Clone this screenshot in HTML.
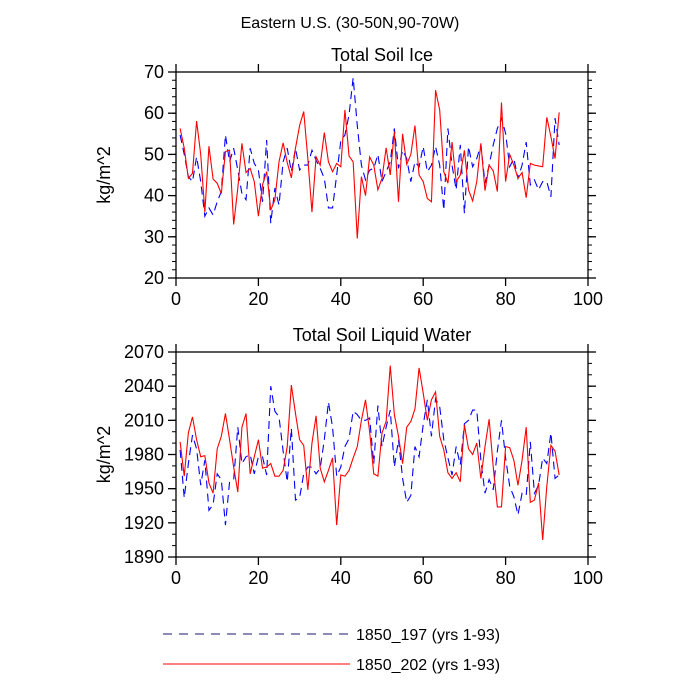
<!DOCTYPE html>
<html><head><meta charset="utf-8"><style>
html,body{margin:0;padding:0;background:#fff;}
svg{display:block;font-family:"Liberation Sans",sans-serif;}
</style></head><body>
<svg id="chart" width="700" height="700" viewBox="0 0 700 700">
<text x="350" y="28" font-size="16" text-anchor="middle">Eastern U.S. (30-50N,90-70W)</text>
</svg>
<script>
const years = Array.from({length:93},(_,i)=>i+1);
const iceBlue = [54.7,50,44.6,43.4,49.4,43.4,35,37,35.3,38.5,41,54.7,48.2,51.5,46.2,40.5,39,51.5,47.8,46.2,38.5,53.5,33.3,41.8,37.7,48.2,51.5,45.8,51.5,46.2,47.4,47.4,51,48.6,46.6,44.2,37,37,45,53.3,54.7,59.6,68.6,57,47.4,43.8,46.2,46.6,50,43.4,45.8,48.2,56.3,46.6,51,49,43.4,48.2,47,51.9,45.8,47.4,51.9,47.4,36.5,56.3,47.4,41.4,52.3,35.7,51.9,47,49,52.3,43,47.4,52.3,56.3,58.8,55.1,47,49,44.2,47.4,53,42.6,43.8,41.4,43.4,43.4,39.7,58.8,52.3];
const iceRed = [56.3,51.5,44.2,45.4,58.1,50,36,52,44,43,40.5,50.7,51,33,41.8,52.7,45.6,46.6,43.4,35,42.6,45.8,36.5,39,48.2,52.8,48,44.3,51.5,57,60.4,49,36,49.4,47.4,55.3,48.2,45.8,47.8,47,60.8,49.6,48.2,29.6,44.6,40,49.4,47.4,41.4,44.2,51.6,45,55.5,38.5,55,47.6,50,57,45,43.4,39.3,38.5,65.6,60.8,45.8,43,53,43.4,45,51,41.4,38.7,43.4,52.7,41.2,47.4,46,41,62.6,43.4,50,47.4,44.2,45.6,39.5,47.8,47.4,47.2,47,59,54.3,49,60.2];
const liqBlue = [1984,1942,1972,1997,1985,1953,1975,1931,1936,1963,1958,1918,1956,1958,2004,1972,1978,1980,1963,1978,1978,1962,2040,2018,2013,1983,1956,2003,1940,1942,1963,1969,1969,1963,1968,1993,2026,2004,1961,1969,1987,1994,2018,2015,2010,2010,2012,1972,2023,1987,2004,2019,1969,1993,1959,1938,1944,1987,1978,2006,2028,1996,2029,2022,1993,1977,1962,1987,1971,2007,2010,2019,2019,1975,1946,1958,1949,1983,2010,1977,1952,1943,1927,1946,1944,1991,1946,1953,1977,1972,1999,1959,1962];
const liqRed = [1991,1961,1999,2013,1993,1978,1979,1955,1946,1985,1996,2016,1993,1969,1947,2004,2016,1963,1978,1993,1968,1969,1972,1961,1961,1966,1987,2041,2016,1993,1988,1949,1990,2014,1968,1956,1966,1977,1918,1962,1961,1966,1977,1987,2010,2028,2000,1963,1961,1999,2009,2058,2015,1996,1972,2004,2009,2020,2056,2034,2010,2028,2035,1996,1984,1964,1959,1964,1956,2006,1985,1980,1990,1959,1987,2011,1969,1934,1934,1987,1986,1975,1953,1975,2004,1938,1940,1955,1905,1952,1988,1983,1962];
const xTicks = [0,20,40,60,80,100];
const iceTicks = [20,30,40,50,60,70];
const liqTicks = [1890,1920,1950,1980,2010,2040,2070];

const NS="http://www.w3.org/2000/svg";
const svg=document.getElementById('chart');
function mk(tag,attrs,parent){const e=document.createElementNS(NS,tag);for(const k in attrs)e.setAttribute(k,attrs[k]);(parent||svg).appendChild(e);return e;}
const L=176,R=588;
function xs(v){return L+(v-0)/100*(R-L);}

function panel(name,top,bot,ymin,ymax,yticks,minorStep,title,blue,red){
  const g=mk('g',{});
  
  
  const ys=v=>bot-(v-ymin)/(ymax-ymin)*(bot-top);
  const t=mk('text',{x:(L+R)/2,y:top-11,'font-size':18,'text-anchor':'middle'},g);
  t.textContent=title;
  
  
  const lab=mk('text',{x:0,y:0,'font-size':18,'text-anchor':'middle',transform:`translate(110,${(top+bot)/2}) rotate(-90)`},g);
  lab.textContent='kg/m^2';
  
  
  // minor y ticks
  for(let v=ymin;v<=ymax+1e-9;v+=minorStep){
    const y=ys(v);
    mk('line',{x1:L-4,x2:L,y1:y,y2:y,stroke:'#000','stroke-width':1},g);
    mk('line',{x1:R,x2:R+4,y1:y,y2:y,stroke:'#000','stroke-width':1},g);
  }
  yticks.forEach(v=>{
    const y=ys(v);
    mk('line',{x1:L-8,x2:L,y1:y,y2:y,stroke:'#000','stroke-width':1.3},g);
    mk('line',{x1:R,x2:R+8,y1:y,y2:y,stroke:'#000','stroke-width':1.3},g);
    const tl=mk('text',{x:L-12,y:y+6,'font-size':18,'text-anchor':'end'},g);
    tl.textContent=v;
    
    
  });
  xTicks.forEach(v=>{
    const x=xs(v);
    mk('line',{x1:x,x2:x,y1:bot,y2:bot+8,stroke:'#000','stroke-width':1.3},g);
    mk('line',{x1:x,x2:x,y1:top-8,y2:top,stroke:'#000','stroke-width':1.3},g);
    const tl=mk('text',{x:x,y:bot+27,'font-size':18,'text-anchor':'middle'},g);
    tl.textContent=v;
    
    
  });
  const box=mk('rect',{x:L,y:top,width:R-L,height:bot-top,fill:'none',stroke:'#000','stroke-width':1.3},g);
  
  
  const pb=mk('polyline',{points:years.map((yr,i)=>xs(yr)+','+ys(blue[i])).join(' '),fill:'none',stroke:'#0000ff','stroke-width':1.1,'stroke-dasharray':'8,5'},g);
  
  
  const pr=mk('polyline',{points:years.map((yr,i)=>xs(yr)+','+ys(red[i])).join(' '),fill:'none',stroke:'#ff0000','stroke-width':1.1},g);
  
  
}
panel('soil-ice-panel',72,278,20,70,iceTicks,2,'Total Soil Ice',iceBlue,iceRed);
panel('soil-liquid-panel',352,557,1890,2070,liqTicks,10,'Total Soil Liquid Water',liqBlue,liqRed);

// legend
const lg=mk('g',{});


const l1=mk('line',{x1:163,x2:350,y1:634,y2:634,stroke:'#1a1a66','stroke-width':1,'stroke-dasharray':'9,7'},lg);


const t1=mk('text',{x:356,y:640,'font-size':16},lg);
t1.textContent='1850_197 (yrs 1-93)';


const l2=mk('line',{x1:163,x2:350,y1:664,y2:664,stroke:'#ff0000','stroke-width':1},lg);


const t2=mk('text',{x:356,y:670,'font-size':16},lg);
t2.textContent='1850_202 (yrs 1-93)';


</script>
</body></html>
